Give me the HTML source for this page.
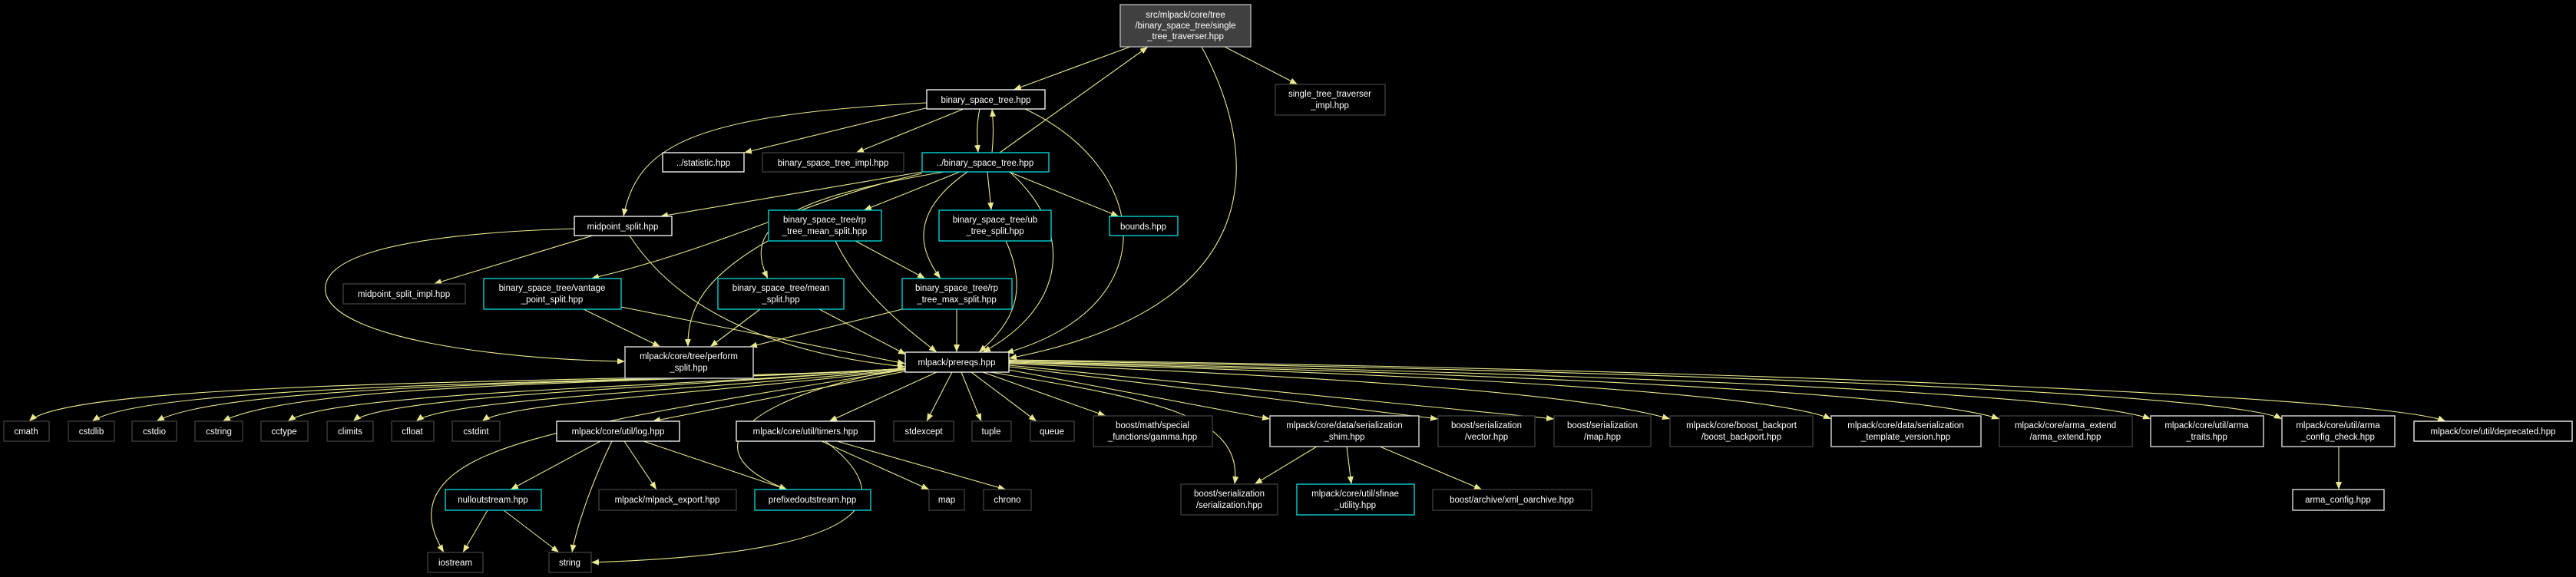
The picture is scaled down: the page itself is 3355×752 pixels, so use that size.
<!DOCTYPE html>
<html><head><meta charset="utf-8"><style>
html,body{margin:0;padding:0;background:#000;width:3355px;height:752px;overflow:hidden}
svg text{font-family:"Liberation Sans",Arial,sans-serif;font-size:11.5px;fill:#fff;text-anchor:middle}
.w{fill:#000;stroke:#fff;stroke-width:1.3}
.c{fill:#000;stroke:#00e0e0;stroke-width:1.3}
.g{fill:#000;stroke:#404040;stroke-width:1.3}
.l{fill:#000;stroke:#bfbfbf;stroke-width:1.6}
.e{fill:none;stroke:#e8e88e;stroke-width:1.1}
</style></head><body>
<svg width="3355" height="752" viewBox="0 0 3355 752" xmlns="http://www.w3.org/2000/svg">
<defs><marker id="a" markerWidth="10" markerHeight="8" refX="10" refY="4" orient="auto" markerUnits="userSpaceOnUse"><polygon points="0,0 10,4 0,8" fill="#e8e88e"/></marker></defs>
<g marker-end="url(#a)">
<path class="e" d="M1472,61 L1320,117"/>
<path class="e" d="M1302,199 L1495,61"/>
<path class="e" d="M1595,61 L1690,110"/>
<path class="e" d="M1565,61 C1640,200 1660,400 1314,467"/>
<path class="e" d="M1230,135 L969,199"/>
<path class="e" d="M1255,142 L1115,199"/>
<path class="e" d="M1276,142 C1272,160 1272,180 1274,199"/>
<path class="e" d="M1292,199 C1294,180 1294,160 1292,142"/>
<path class="e" d="M1207,134 C900,150 830,190 812,282"/>
<path class="e" d="M1335,142 C1500,220 1520,400 1310,460"/>
<path class="e" d="M1201,224 L860,282"/>
<path class="e" d="M1201,226 C1050,260 950,320 770,363"/>
<path class="e" d="M1230,224 C1010,260 970,300 1000,363"/>
<path class="e" d="M1250,224 L1125,274"/>
<path class="e" d="M1286,224 L1291,274"/>
<path class="e" d="M1314,224 L1457,282"/>
<path class="e" d="M1260,224 C1180,280 1200,330 1225,363"/>
<path class="e" d="M1315,224 C1400,300 1390,400 1280,459"/>
<path class="e" d="M1175,403 L976,452"/>
<path class="e" d="M1000,314 C920,360 895,400 896,452"/>
<path class="e" d="M990,403 L925,452"/>
<path class="e" d="M760,403 L860,452"/>
<path class="e" d="M748,298 C520,305 410,335 425,385 C445,440 640,468 814,471"/>
<path class="e" d="M772,307 L565,370"/>
<path class="e" d="M820,307 C880,400 1000,460 1179,478"/>
<path class="e" d="M809,400 L1179,474"/>
<path class="e" d="M1067,403 L1180,462"/>
<path class="e" d="M1088,314 C1120,380 1170,420 1220,459"/>
<path class="e" d="M1114,314 L1205,363"/>
<path class="e" d="M1310,314 C1340,380 1320,420 1275,459"/>
<path class="e" d="M1246,403 L1246,459"/>
<path class="e" d="M1179,480 C900,500 100,490 38,549"/>
<path class="e" d="M1179,480 C900,500 200,495 120,549"/>
<path class="e" d="M1179,480 C900,500 300,495 204,549"/>
<path class="e" d="M1179,480 C900,500 400,495 290,549"/>
<path class="e" d="M1179,480 C900,505 430,510 375,549"/>
<path class="e" d="M1179,480 C900,505 500,515 460,549"/>
<path class="e" d="M1179,481 C900,510 580,520 542,549"/>
<path class="e" d="M1179,482 C900,515 660,525 628,549"/>
<path class="e" d="M1179,484 L850,549"/>
<path class="e" d="M1220,485 L1080,549"/>
<path class="e" d="M1240,485 L1207,549"/>
<path class="e" d="M1252,485 L1278,549"/>
<path class="e" d="M1265,485 L1350,549"/>
<path class="e" d="M1280,485 L1440,542"/>
<path class="e" d="M1314,482 L1654,546"/>
<path class="e" d="M1314,478 L1873,546"/>
<path class="e" d="M1314,476 L2024,546"/>
<path class="e" d="M1314,474 C1700,490 2050,510 2175,546"/>
<path class="e" d="M1314,473 C1800,485 2300,510 2385,546"/>
<path class="e" d="M1314,472 C1900,485 2500,510 2604,546"/>
<path class="e" d="M1314,471 C2000,485 2700,510 2801,546"/>
<path class="e" d="M1314,470 C2100,482 2900,510 2972,546"/>
<path class="e" d="M1314,469 C2200,480 3100,515 3185,549"/>
<path class="e" d="M1290,485 C1500,520 1620,540 1608,631"/>
<path class="e" d="M1179,482 C880,530 700,560 620,600 C540,640 560,690 578,720"/>
<path class="e" d="M1179,480 C960,520 900,590 1025,638"/>
<path class="e" d="M782,575 L665,638"/>
<path class="e" d="M813,575 L855,638"/>
<path class="e" d="M838,575 L1025,638"/>
<path class="e" d="M797,575 C770,630 750,690 745,720"/>
<path class="e" d="M1070,575 L1210,638"/>
<path class="e" d="M1090,575 L1310,638"/>
<path class="e" d="M1075,575 C1160,640 1170,720 770,733"/>
<path class="e" d="M635,665 L603,720"/>
<path class="e" d="M656,665 L728,720"/>
<path class="e" d="M1715,582 L1634,631"/>
<path class="e" d="M1754,582 L1760,631"/>
<path class="e" d="M1797,582 L1930,638"/>
<path class="e" d="M3046,582 L3046,638"/>
</g>
<rect x="1459" y="6" width="170" height="55" fill="#404040" stroke="#bfbfbf" stroke-width="1.3"/>
<text x="1544" y="23">src/mlpack/core/tree</text><text x="1544" y="37">/binary_space_tree/single</text><text x="1544" y="51">_tree_traverser.hpp</text>
<rect class="w" x="1207" y="117" width="154" height="25"/><text x="1284" y="134">binary_space_tree.hpp</text>
<rect class="g" x="1661" y="110" width="143" height="40"/><text x="1732" y="126">single_tree_traverser</text><text x="1732" y="141">_impl.hpp</text>
<rect class="w" x="863" y="199" width="106" height="25"/><text x="916" y="216">../statistic.hpp</text>
<rect class="g" x="993" y="199" width="184" height="25"/><text x="1085" y="216">binary_space_tree_impl.hpp</text>
<rect class="c" x="1201" y="199" width="165" height="25"/><text x="1283" y="216">../binary_space_tree.hpp</text>
<rect class="w" x="748" y="282" width="127" height="25"/><text x="811" y="299">midpoint_split.hpp</text>
<rect class="c" x="1445" y="282" width="89" height="25"/><text x="1489" y="299">bounds.hpp</text>
<rect class="c" x="1001" y="274" width="147" height="40"/><text x="1074" y="290">binary_space_tree/rp</text><text x="1074" y="305">_tree_mean_split.hpp</text>
<rect class="c" x="1223" y="274" width="146" height="40"/><text x="1296" y="290">binary_space_tree/ub</text><text x="1296" y="305">_tree_split.hpp</text>
<rect class="g" x="447" y="370" width="159" height="26"/><text x="526" y="387">midpoint_split_impl.hpp</text>
<rect class="c" x="630" y="363" width="179" height="40"/><text x="719" y="379">binary_space_tree/vantage</text><text x="719" y="394">_point_split.hpp</text>
<rect class="c" x="935" y="363" width="164" height="40"/><text x="1017" y="379">binary_space_tree/mean</text><text x="1017" y="394">_split.hpp</text>
<rect class="c" x="1175" y="363" width="143" height="40"/><text x="1246" y="379">binary_space_tree/rp</text><text x="1246" y="394">_tree_max_split.hpp</text>
<rect class="l" x="814" y="452" width="167" height="41"/><text x="897" y="468">mlpack/core/tree/perform</text><text x="897" y="483">_split.hpp</text>
<rect class="w" x="1179" y="459" width="135" height="26"/><text x="1246" y="476">mlpack/prereqs.hpp</text>
<rect class="g" x="5" y="549" width="59" height="26"/><text x="34" y="566">cmath</text>
<rect class="g" x="89" y="549" width="60" height="26"/><text x="119" y="566">cstdlib</text>
<rect class="g" x="172" y="549" width="58" height="26"/><text x="201" y="566">cstdio</text>
<rect class="g" x="254" y="549" width="62" height="26"/><text x="285" y="566">cstring</text>
<rect class="g" x="340" y="549" width="61" height="26"/><text x="370" y="566">cctype</text>
<rect class="g" x="426" y="549" width="60" height="26"/><text x="456" y="566">climits</text>
<rect class="g" x="510" y="549" width="55" height="26"/><text x="537" y="566">cfloat</text>
<rect class="g" x="589" y="549" width="62" height="26"/><text x="620" y="566">cstdint</text>
<rect class="w" x="725" y="549" width="160" height="26"/><text x="805" y="566">mlpack/core/util/log.hpp</text>
<rect class="w" x="959" y="549" width="180" height="26"/><text x="1049" y="566">mlpack/core/util/timers.hpp</text>
<rect class="g" x="1164" y="549" width="78" height="26"/><text x="1203" y="566">stdexcept</text>
<rect class="g" x="1266" y="549" width="51" height="26"/><text x="1291" y="566">tuple</text>
<rect class="g" x="1342" y="549" width="57" height="26"/><text x="1370" y="566">queue</text>
<rect class="w" x="3144" y="549" width="206" height="26"/><text x="3247" y="566">mlpack/core/util/deprecated.hpp</text>
<rect class="g" x="1424" y="542" width="155" height="40"/><text x="1501" y="558">boost/math/special</text><text x="1501" y="573">_functions/gamma.hpp</text>
<rect class="l" x="1654" y="542" width="194" height="40"/><text x="1751" y="558">mlpack/core/data/serialization</text><text x="1751" y="573">_shim.hpp</text>
<rect class="g" x="1873" y="542" width="126" height="40"/><text x="1936" y="558">boost/serialization</text><text x="1936" y="573">/vector.hpp</text>
<rect class="g" x="2024" y="542" width="126" height="40"/><text x="2087" y="558">boost/serialization</text><text x="2087" y="573">/map.hpp</text>
<rect class="g" x="2175" y="542" width="186" height="40"/><text x="2268" y="558">mlpack/core/boost_backport</text><text x="2268" y="573">/boost_backport.hpp</text>
<rect class="l" x="2385" y="542" width="195" height="40"/><text x="2482" y="558">mlpack/core/data/serialization</text><text x="2482" y="573">_template_version.hpp</text>
<rect class="g" x="2604" y="542" width="173" height="40"/><text x="2690" y="558">mlpack/core/arma_extend</text><text x="2690" y="573">/arma_extend.hpp</text>
<rect class="l" x="2801" y="542" width="147" height="40"/><text x="2874" y="558">mlpack/core/util/arma</text><text x="2874" y="573">_traits.hpp</text>
<rect class="l" x="2972" y="542" width="147" height="40"/><text x="3045" y="558">mlpack/core/util/arma</text><text x="3045" y="573">_config_check.hpp</text>
<rect class="c" x="580" y="638" width="125" height="27"/><text x="642" y="655">nulloutstream.hpp</text>
<rect class="g" x="780" y="638" width="179" height="27"/><text x="869" y="655">mlpack/mlpack_export.hpp</text>
<rect class="c" x="983" y="638" width="151" height="27"/><text x="1058" y="655">prefixedoutstream.hpp</text>
<rect class="g" x="1210" y="638" width="46" height="27"/><text x="1233" y="655">map</text>
<rect class="g" x="1281" y="638" width="62" height="27"/><text x="1312" y="655">chrono</text>
<rect class="g" x="1866" y="638" width="207" height="27"/><text x="1969" y="655">boost/archive/xml_oarchive.hpp</text>
<rect class="l" x="2986" y="638" width="119" height="27"/><text x="3045" y="655">arma_config.hpp</text>
<rect class="g" x="1538" y="631" width="126" height="40"/><text x="1601" y="647">boost/serialization</text><text x="1601" y="662">/serialization.hpp</text>
<rect class="c" x="1689" y="631" width="153" height="40"/><text x="1765" y="647">mlpack/core/util/sfinae</text><text x="1765" y="662">_utility.hpp</text>
<rect class="g" x="557" y="720" width="72" height="26"/><text x="593" y="737">iostream</text>
<rect class="g" x="715" y="720" width="55" height="26"/><text x="742" y="737">string</text>
</svg>
</body></html>
